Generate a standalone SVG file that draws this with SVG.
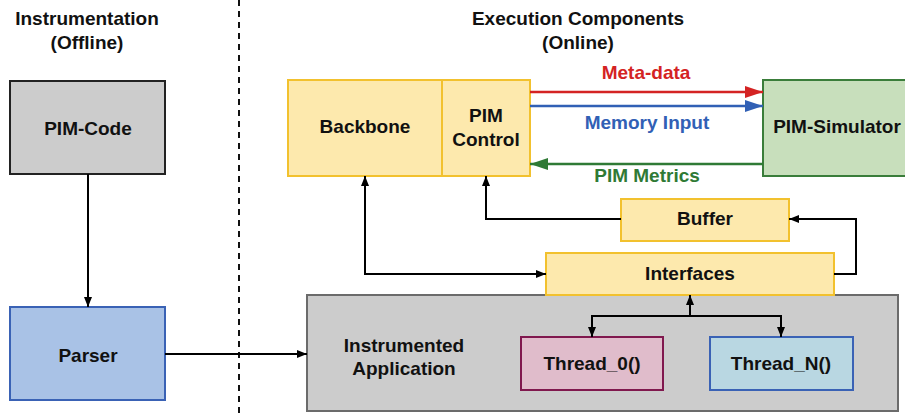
<svg xmlns="http://www.w3.org/2000/svg" width="905" height="416" viewBox="0 0 905 416">
  <defs>
    <marker id="arr" viewBox="0 0 10 8" refX="10" refY="4" markerWidth="10" markerHeight="8" markerUnits="userSpaceOnUse" orient="auto-start-reverse">
      <path d="M0,0 L10,4 L0,8 Z" fill="#000"/>
    </marker>
    <marker id="arrRed" viewBox="0 0 18 12" refX="18" refY="6" markerWidth="18" markerHeight="12" markerUnits="userSpaceOnUse" orient="auto">
      <path d="M0,0 L18,6 L0,12 Z" fill="#d42323"/>
    </marker>
    <marker id="arrBlue" viewBox="0 0 18 12" refX="18" refY="6" markerWidth="18" markerHeight="12" markerUnits="userSpaceOnUse" orient="auto">
      <path d="M0,0 L18,6 L0,12 Z" fill="#3160b5"/>
    </marker>
    <marker id="arrGreen" viewBox="0 0 18 12" refX="18" refY="6" markerWidth="18" markerHeight="12" markerUnits="userSpaceOnUse" orient="auto">
      <path d="M0,0 L18,6 L0,12 Z" fill="#2f7a35"/>
    </marker>
  </defs>
  <style>
    text { font-family: "Liberation Sans", Arial, sans-serif; font-weight: bold; font-size: 19px; text-anchor: middle; fill: #111; }
    .yellow { fill: #fde9ad; stroke: #f2c12e; stroke-width: 2; }
    .gray { fill: #cccccc; stroke: #6b6b6b; stroke-width: 2; }
    .conn { fill: none; stroke: #000; stroke-width: 2; }
  </style>
  <rect width="905" height="416" fill="#fff"/>

  <!-- section titles and divider -->
  <g id="titles">
    <text x="87" y="25">Instrumentation</text>
    <text x="87" y="49">(Offline)</text>
    <text x="578" y="25">Execution Components</text>
    <text x="578" y="49">(Online)</text>
  </g>
  <line id="divider" x1="239" y1="0" x2="239" y2="414" stroke="#111" stroke-width="2" stroke-dasharray="6,5"/>

  <g id="pim-code">
    <rect x="10" y="81" width="155" height="93" fill="#cccccc" stroke="#222" stroke-width="2"/>
    <text x="88" y="135">PIM-Code</text>
  </g>
  <g id="parser">
    <rect x="10" y="307" width="155" height="93" fill="#a9c2e6" stroke="#3a62b5" stroke-width="2"/>
    <text x="88" y="362">Parser</text>
  </g>

  <g id="instrumented-application">
    <rect x="307" y="295" width="591" height="116" class="gray"/>
    <text x="404" y="352">Instrumented</text>
    <text x="404" y="375">Application</text>
  </g>
  <g id="thread-0">
    <rect x="521" y="337" width="142" height="53" fill="#e0bccb" stroke="#80184e" stroke-width="2"/>
    <text x="592" y="370">Thread_0()</text>
  </g>
  <g id="thread-n">
    <rect x="710" y="337" width="143" height="53" fill="#b9d7e2" stroke="#3a62b5" stroke-width="2"/>
    <text x="781" y="370">Thread_N()</text>
  </g>

  <g id="backbone">
    <rect x="288" y="80" width="154" height="96" class="yellow"/>
    <text x="365" y="133">Backbone</text>
  </g>
  <g id="pim-control">
    <rect x="442" y="80" width="88" height="96" class="yellow"/>
    <text x="486" y="122">PIM</text>
    <text x="486" y="146">Control</text>
  </g>
  <g id="pim-simulator">
    <rect x="763" y="80" width="150" height="96" fill="#c8dfbc" stroke="#3a7d3a" stroke-width="2"/>
    <text x="837" y="133">PIM-Simulator</text>
  </g>
  <g id="buffer">
    <rect x="621" y="199" width="168" height="42" class="yellow"/>
    <text x="705" y="225">Buffer</text>
  </g>
  <g id="interfaces">
    <rect x="546" y="253" width="288" height="42" class="yellow"/>
    <text x="690" y="280">Interfaces</text>
  </g>

  <g id="connectors">
    <line x1="88" y1="174" x2="88" y2="307" class="conn" stroke-width="1.5" marker-end="url(#arr)"/>
    <line x1="165" y1="354" x2="307" y2="354" class="conn" stroke-width="1.5" marker-end="url(#arr)"/>

    <line x1="530" y1="92" x2="763" y2="92" stroke="#d42323" stroke-width="2.5" marker-end="url(#arrRed)"/>
    <line x1="530" y1="106" x2="763" y2="106" stroke="#3160b5" stroke-width="2.5" marker-end="url(#arrBlue)"/>
    <line x1="763" y1="164" x2="530" y2="164" stroke="#2f7a35" stroke-width="2.5" marker-end="url(#arrGreen)"/>
    <text x="646" y="79" style="fill:#d42323">Meta-data</text>
    <text x="647" y="129" style="fill:#3160b5">Memory Input</text>
    <text x="647" y="182" style="fill:#2f7a35">PIM Metrics</text>

    <path d="M365,176 V274 H546" class="conn" marker-start="url(#arr)" marker-end="url(#arr)"/>
    <path d="M621,219 H486 V176" class="conn" marker-end="url(#arr)"/>
    <path d="M834,274 H856 V219 H789" class="conn" marker-end="url(#arr)"/>
    <line x1="690" y1="316" x2="690" y2="295" class="conn" marker-end="url(#arr)"/>
    <path d="M592,337 V316 H781 V337" class="conn" marker-start="url(#arr)" marker-end="url(#arr)"/>
  </g>
</svg>
